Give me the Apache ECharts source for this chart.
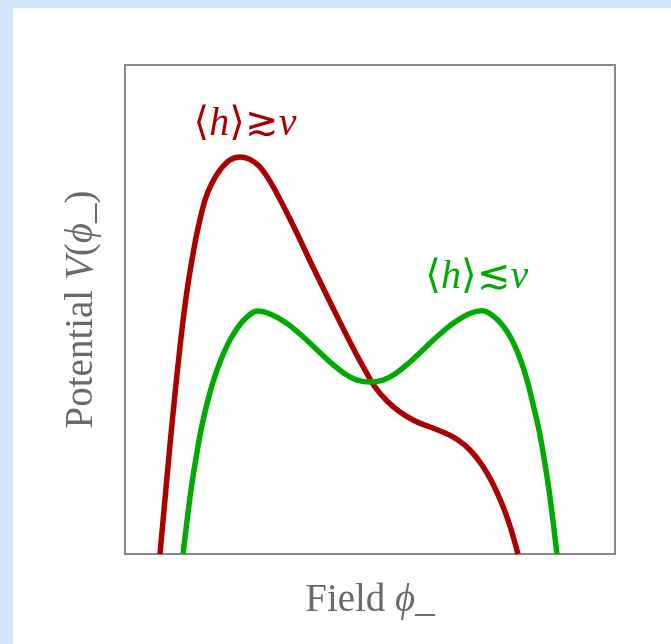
<!DOCTYPE html>
<html>
<head>
<meta charset="utf-8">
<script src="https://cdn.jsdelivr.net/npm/echarts@6/dist/echarts.min.js"></script>
<style>
  html, body { margin: 0; padding: 0; }
  #page { position: relative; width: 671px; height: 644px; background: #d2e5fc; overflow: hidden; }
  #chart { position: absolute; left: 13px; top: 8px; width: 658px; height: 636px; background: #ffffff; }
</style>
</head>
<body>
<div id="page"><div id="chart"></div></div>
<script>
// curve samples (field on x, potential on y, both 0..10)
var redX = [0.714, 0.796, 0.878, 0.959, 1.041, 1.122, 1.204, 1.286, 1.367, 1.469, 1.633, 1.776, 1.939, 2.143, 2.347, 2.531, 2.714, 2.878, 3.061, 3.408, 3.816, 4.224, 4.633, 4.898, 5.102, 5.347, 5.612, 5.918, 6.224, 6.531, 6.796, 7.041, 7.286, 7.490, 7.694, 7.857, 8.020];
var redY = [0, 0.900, 1.800, 2.658, 3.476, 4.233, 4.928, 5.521, 6.012, 6.564, 7.239, 7.587, 7.853, 8.057, 8.119, 8.078, 7.955, 7.751, 7.444, 6.769, 5.910, 5.072, 4.254, 3.763, 3.415, 3.129, 2.904, 2.720, 2.597, 2.474, 2.331, 2.127, 1.820, 1.472, 1.022, 0.573, 0];
var greenX = [1.184, 1.265, 1.347, 1.449, 1.551, 1.673, 1.796, 1.939, 2.143, 2.408, 2.714, 2.959, 3.265, 3.571, 3.878, 4.184, 4.490, 4.735, 5.000, 5.265, 5.510, 5.816, 6.122, 6.429, 6.735, 7.041, 7.286, 7.592, 7.857, 8.061, 8.204, 8.327, 8.449, 8.551, 8.653, 8.735, 8.816];
var greenY = [0, 0.675, 1.309, 1.963, 2.536, 3.067, 3.517, 3.926, 4.376, 4.765, 4.969, 4.908, 4.744, 4.499, 4.213, 3.926, 3.681, 3.558, 3.517, 3.558, 3.681, 3.926, 4.213, 4.499, 4.744, 4.920, 4.975, 4.800, 4.450, 4.000, 3.560, 3.067, 2.536, 1.963, 1.309, 0.675, 0];

var redLabel = '{n|⟨}{i|h}{n|⟩≳}{i|v}';
var greenLabel = '{n|⟨}{i|h}{n|⟩≲}{i|v}';
var redLabelAt = [2.45, 8.78];
var greenLabelAt = [7.18, 5.65];

var xTitle = '{n|Field }{i|ϕ}{n|_}';
var yTitle = '{n|Potential }{i|V}{n|(}{i|ϕ}{n|_)}';

var serif = "'Liberation Serif', 'DejaVu Serif', serif";

function pairs(xs, ys) {
  var out = [];
  for (var i = 0; i < xs.length; i++) out.push([xs[i], ys[i]]);
  return out;
}

function richFor(color, size) {
  return {
    n: { fontFamily: serif, fontSize: size, color: color },
    i: { fontFamily: serif, fontSize: size, color: color, fontStyle: 'italic' }
  };
}

function curve(name, xs, ys, color, text, at) {
  return {
    name: name,
    type: 'line',
    data: pairs(xs, ys),
    smooth: 0.35,
    showSymbol: false,
    silent: true,
    lineStyle: { color: color, width: 5.5 },
    markPoint: {
      symbol: 'circle',
      symbolSize: 0,
      silent: true,
      data: [{ coord: at }],
      label: {
        show: true,
        position: 'inside',
        formatter: text,
        rich: richFor(color, 40)
      }
    }
  };
}

var chart = echarts.init(document.getElementById('chart'));
chart.setOption({
  animation: false,
  grid: {
    left: 112, top: 57, width: 490, height: 489,
    show: true, borderColor: '#888888', borderWidth: 2,
    backgroundColor: 'transparent'
  },
  xAxis: {
    type: 'value', min: 0, max: 10,
    name: xTitle, nameLocation: 'middle', nameGap: 27,
    nameTextStyle: { rich: richFor('#6a6a6a', 39) },
    axisLine: { show: false }, axisTick: { show: false },
    axisLabel: { show: false }, splitLine: { show: false }
  },
  yAxis: {
    type: 'value', min: 0, max: 10,
    name: yTitle, nameLocation: 'middle', nameGap: 24,
    nameTextStyle: { rich: richFor('#6a6a6a', 39) },
    axisLine: { show: false }, axisTick: { show: false },
    axisLabel: { show: false }, splitLine: { show: false }
  },
  series: [
    curve('large', redX, redY, '#aa0000', redLabel, redLabelAt),
    curve('small', greenX, greenY, '#00aa00', greenLabel, greenLabelAt)
  ]
});
</script>
</body>
</html>
